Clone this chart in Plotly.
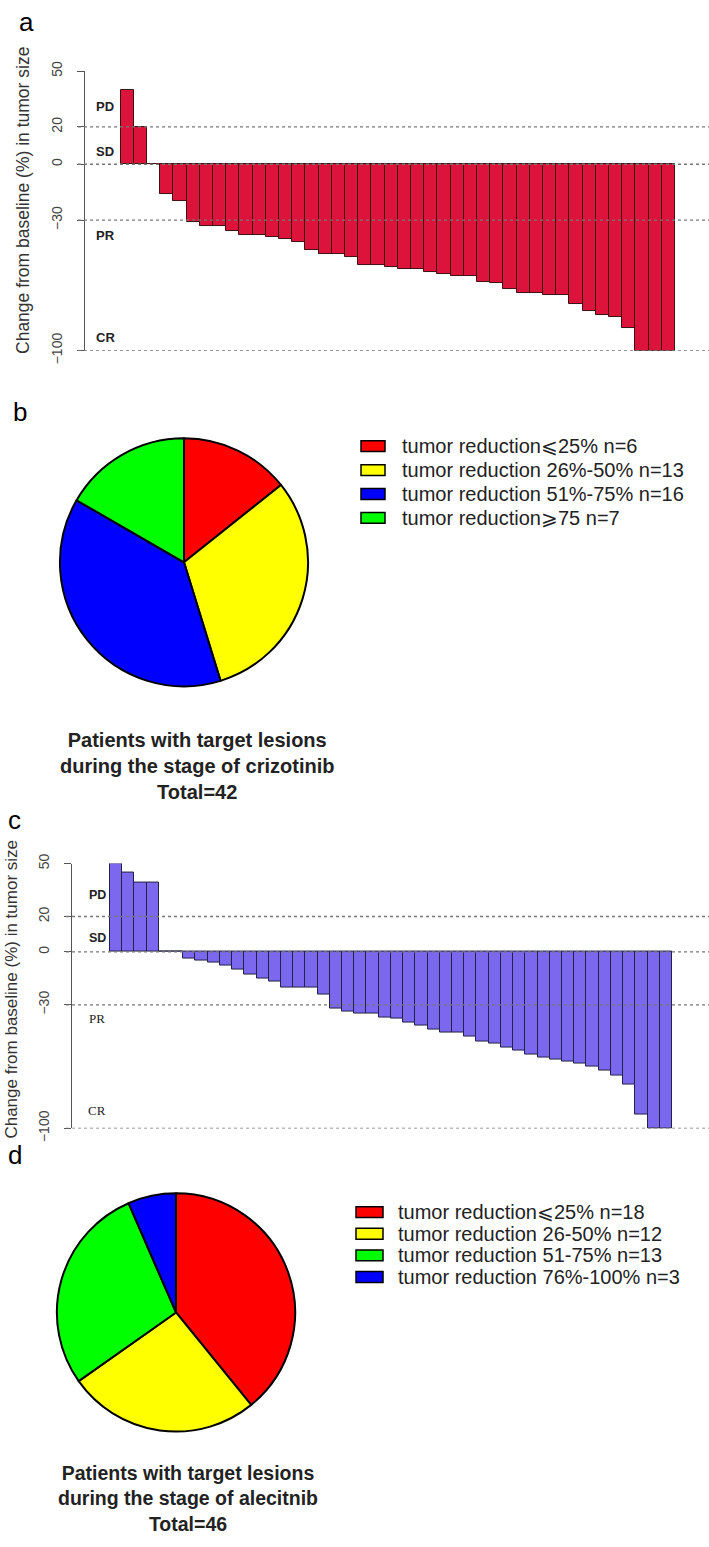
import plotly.graph_objects as go

W, H = 709, 1547

# ---------------- data ----------------
a_values = [40, 20, 0, -16, -20, -31, -33, -33, -36, -38, -38, -39, -40, -42,
            -46, -48, -48, -50, -54, -54, -55, -56, -56, -58, -59, -60, -60,
            -63, -64, -67, -69, -69, -70, -70, -75, -79, -81, -82, -88,
            -100, -100, -100]
c_values = [50, 45, 39, 39, 0, 0, -4, -5, -6, -8, -10, -13, -15, -17, -20,
            -20, -20, -24, -32, -34, -35, -35, -37, -38, -40, -42, -44, -46,
            -46, -48, -51, -52, -54, -56, -58, -60, -61, -62, -63, -65, -67,
            -70, -75, -92, -100, -100]

y_ticks = [50, 20, 0, -30, -100]
ref_lines = [20, 0, -30, -100]
zone_labels = ["PD", "SD", "PR", "CR"]
zone_pos_a = [31, 7, -38, -93]
zone_pos_c = [32, 8, -38, -90]

b_labels = ["tumor reduction\u2a7d25% n=6", "tumor reduction 26%-50% n=13",
            "tumor reduction 51%-75% n=16", "tumor reduction\u2a7e75 n=7"]
b_counts = [6, 13, 16, 7]
b_colors = ["#FF0000", "#FFFF00", "#0000FF", "#00FF00"]
b_title = ["Patients with target lesions", "during the stage of crizotinib", "Total=42"]

d_labels = ["tumor reduction\u2a7d25% n=18", "tumor reduction 26-50% n=12",
            "tumor reduction 51-75% n=13", "tumor reduction 76%-100% n=3"]
d_counts = [18, 12, 13, 3]
d_colors = ["#FF0000", "#FFFF00", "#00FF00", "#0000FF"]
d_title = ["Patients with target lesions", "during the stage of alecitnib", "Total=46"]

y_title = "Change from baseline (%) in tumor size"


def px(x):
    return x / W


def py(y):
    return 1 - y / H


fig = go.Figure()

# ---------------- waterfall a ----------------
fig.add_trace(go.Bar(x=list(range(1, len(a_values) + 1)), y=a_values,
                     marker=dict(color="#DC143C", line=dict(color="#3a1010", width=1)),
                     width=1, xaxis="x", yaxis="y", showlegend=False))
# ---------------- waterfall c ----------------
fig.add_trace(go.Bar(x=list(range(1, len(c_values) + 1)), y=c_values,
                     marker=dict(color="#7B68EE", line=dict(color="#222244", width=1)),
                     width=1, xaxis="x2", yaxis="y2", showlegend=False))

# ---------------- pies ----------------
cb, rb = (184, 561), 126
fig.add_trace(go.Pie(values=b_counts, labels=b_labels, sort=False, direction="clockwise",
                     rotation=0, textinfo="none", hoverinfo="label+value",
                     marker=dict(colors=b_colors, line=dict(color="black", width=2)),
                     domain=dict(x=[px(cb[0] - rb), px(cb[0] + rb)],
                                 y=[py(cb[1] + rb), py(cb[1] - rb)]),
                     showlegend=False))
cd, rd = (176, 1323), 121
fig.add_trace(go.Pie(values=d_counts, labels=d_labels, sort=False, direction="clockwise",
                     rotation=0, textinfo="none", hoverinfo="label+value",
                     marker=dict(colors=d_colors, line=dict(color="black", width=2)),
                     domain=dict(x=[px(cd[0] - rd), px(cd[0] + rd)],
                                 y=[py(cd[1] + rd), py(cd[1] - rd)]),
                     showlegend=False))

yaxis_common = dict(range=[-100, 50], tickvals=y_ticks, tickangle=-90,
                    showline=True, linecolor="#555", linewidth=1.3,
                    ticks="outside", ticklen=7, tickcolor="#555", tickwidth=1.3,
                    tickfont=dict(family="Liberation Sans", size=14, color="#444"),
                    showgrid=False, zeroline=False, ticklabelstandoff=9)
xaxis_common = dict(showline=False, showticklabels=False, ticks="", showgrid=False,
                    zeroline=False)

fig.update_layout(
    width=W, height=H, margin=dict(l=0, r=0, t=0, b=0),
    paper_bgcolor="white", plot_bgcolor="white", bargap=0,
    xaxis=dict(domain=[px(85), 1], range=[-2.2, 45.08], anchor="y", **xaxis_common),
    yaxis=dict(domain=[py(346), py(62)], anchor="x", **yaxis_common),
    xaxis2=dict(domain=[px(72), 1], range=[-2.6, 49.53], anchor="y2", **xaxis_common),
    yaxis2=dict(domain=[py(1136), py(867)], anchor="x2", **yaxis_common),
)

shapes = []
annotations = []


def note(text, x, y, size, family="Liberation Sans", color="#222", xanchor="center",
         yref="paper", angle=0):
    annotations.append(dict(text=text, x=x, y=y, xref="paper", yref=yref,
                            xanchor=xanchor, yanchor="middle", textangle=angle,
                            showarrow=False, font=dict(family=family, size=size, color=color)))


# reference dotted lines
for v in ref_lines:
    shapes.append(dict(type="line", xref="paper", yref="y", x0=px(78), x1=1, y0=v, y1=v,
                       line=dict(color="#777", width=1.3, dash="dot"), layer="above"))
    shapes.append(dict(type="line", xref="paper", yref="y2", x0=px(66), x1=1, y0=v, y1=v,
                       line=dict(color="#777", width=1.3, dash="dot"), layer="above"))

# zone labels
for lab, ya, yc in zip(zone_labels, zone_pos_a, zone_pos_c):
    note("<b>%s</b>" % lab, px(105), ya, 13, yref="y")
    if lab in ("PD", "SD"):
        note("<b>%s</b>" % lab, px(97), yc, 12.5, yref="y2")
    else:
        note(lab, px(97), yc, 13, family="Liberation Serif", yref="y2")

# y titles
note(y_title, px(23), py(194), 17.5, color="#333", angle=-90)
note(y_title, px(12), py(995), 17, color="#333", angle=-90)

# panel letters
for letter, (lx, ly) in zip(["a", "b", "c", "d"], [(26, 12), (20, 408), (15, 823), (15, 1163)]):
    note(letter, px(lx), py(ly), 26, color="black")


# legends
def legend(labels, colors, box_x0, box_x1, text_x, y0, dy):
    for i, (lab, col) in enumerate(zip(labels, colors)):
        yc = y0 + i * dy
        shapes.append(dict(type="rect", xref="paper", yref="paper",
                           x0=px(box_x0), x1=px(box_x1), y0=py(yc + 5.5), y1=py(yc - 5.5),
                           fillcolor=col, line=dict(color="black", width=1.5)))
        note(lab, px(text_x), py(yc), 20, xanchor="left")


legend(b_labels, b_colors, 361, 385, 400, 443, 24.3)
legend(d_labels, d_colors, 356, 383, 396, 1221, 22)

# pie titles
note("<b>" + "<br>".join(b_title) + "</b>", px(197), py(768), 20)
note("<b>" + "<br>".join(d_title) + "</b>", px(188), py(1512), 19.5)

fig.update_layout(shapes=shapes, annotations=annotations)
fig.write_html(
    "out.html",
    config={"displayModeBar": False},
    post_script=("document.documentElement.style.margin='0px';"
                 "document.documentElement.style.padding='0px';"
                 "document.documentElement.style.overflow='hidden';"
                 "document.body.style.margin='0px';"
                 "document.body.style.padding='0px';"
                 "document.body.style.overflow='hidden';"),
)
